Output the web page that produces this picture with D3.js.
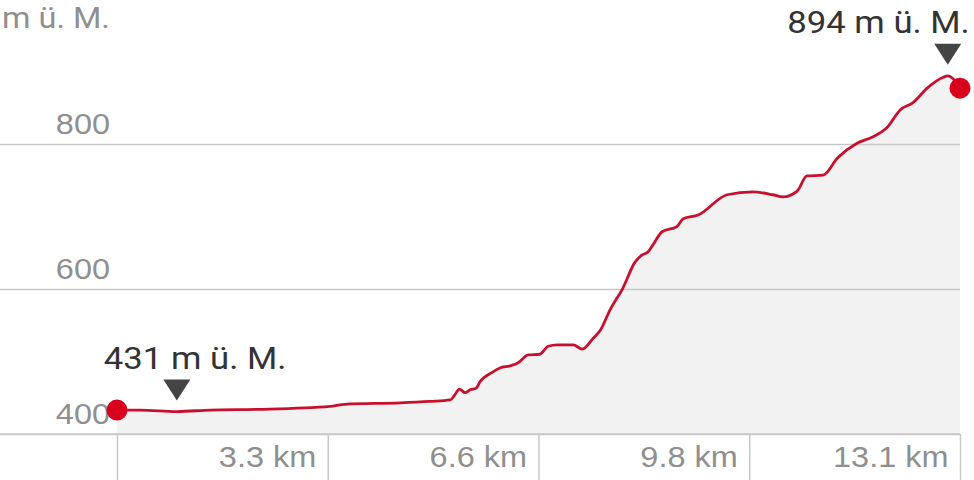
<!DOCTYPE html>
<html>
<head>
<meta charset="utf-8">
<script src="https://cdn.jsdelivr.net/npm/d3@7"></script>
<style>
  body { margin: 0; background: #fff; }
  svg { display: block; font-family: Roboto, sans-serif; }
</style>
</head>
<body>
<div class="chart"></div>
<script>
// elevation profile: distance (km) and height (m ü. M.)
var distKm = [0, 0.36, 0.93, 1.45, 2.22, 3.31, 3.54, 4.40, 4.86, 5.18, 5.25, 5.32, 5.41, 5.49,
  5.58, 5.64, 5.83, 5.95, 6.11, 6.23, 6.39, 6.57, 6.70, 6.84, 7.09, 7.23, 7.40, 7.51, 7.66,
  7.86, 8.05, 8.16, 8.25, 8.33, 8.47, 8.70, 8.80, 9.03, 9.48, 9.88, 10.19, 10.35, 10.57,
  10.72, 10.97, 11.20, 11.50, 11.75, 11.97, 12.17, 12.37, 12.59, 12.84, 12.91, 12.98, 13.10];
var elevM = [433, 433, 431, 433, 434, 438, 441, 443, 445, 447, 454, 462, 457, 461,
  463, 472, 485, 491, 494, 498, 509, 510, 521, 523, 523, 517, 532, 543, 571,
  601, 637, 647, 651, 661, 679, 686, 697, 702, 730, 734, 730, 727, 735,
  756, 757, 781, 801, 810, 823, 847, 857, 877, 892, 894, 891, 877];

var yTickValues = [400, 600, 800];
var xTickLabels = ["3.3 km", "6.6 km", "9.8 km", "13.1 km"];
var unitLabel = "m ü. M.";

var svgWidth = 974;
var svgHeight = 480;
var stretch = 1.12;

var svg = d3.select(".chart").append("svg")
  .attr("width", svgWidth)
  .attr("height", svgHeight);

var totalKm = distKm[distKm.length - 1];
var xScale = d3.scaleLinear().domain([0, totalKm]).range([117, 960]);
var yScale = d3.scaleLinear().domain([400, 800]).range([434, 144]);

var pts = distKm.map((d, i) => ({ km: d, m: elevM[i] }));

// area under profile
var area = d3.area()
  .x(d => xScale(d.km))
  .y0(yScale(400))
  .y1(d => yScale(d.m))
  .curve(d3.curveMonotoneX);

svg.append("path")
  .datum(pts)
  .attr("d", area)
  .attr("fill", "#f2f2f2");

// horizontal grid (y axis)
var leftAxis = d3.axisRight(yScale)
  .tickValues(yTickValues)
  .tickSize(960)
  .tickFormat(d3.format("d"));

var yAxisG = svg.append("g").call(leftAxis);
yAxisG.select(".domain").remove();
yAxisG.selectAll(".tick line").attr("stroke", "#c8c8c8").attr("stroke-width", 1.5);
yAxisG.selectAll(".tick text")
  .attr("x", null).attr("dy", null)
  .attr("text-anchor", "end")
  .attr("transform", `translate(110,-11) scale(${stretch},1)`)
  .attr("fill", "#8f8f8f")
  .attr("font-size", 29);

// bottom axis: tick lines going down, labels to the left of each tick
var xTickKm = xTickLabels.map((d, i) => totalKm * (i + 1) / xTickLabels.length);
var bottomAxis = d3.axisBottom(xScale)
  .tickValues([0].concat(xTickKm))
  .tickSize(46)
  .tickFormat((d, i) => i === 0 ? "" : xTickLabels[i - 1]);

var xAxisG = svg.append("g")
  .attr("transform", `translate(0, ${yScale(400)})`)
  .call(bottomAxis);
xAxisG.select(".domain").remove();
xAxisG.selectAll(".tick line").attr("stroke", "#c8c8c8").attr("stroke-width", 1.5);
xAxisG.selectAll(".tick text")
  .attr("y", null).attr("dy", null)
  .attr("text-anchor", "end")
  .attr("transform", `translate(-12,33) scale(${stretch},1)`)
  .attr("fill", "#8f8f8f")
  .attr("font-size", 29);

// baseline across whole width
svg.append("line")
  .attr("x1", 0).attr("x2", xScale(totalKm))
  .attr("y1", yScale(400)).attr("y2", yScale(400))
  .attr("stroke", "#c8c8c8").attr("stroke-width", 1.5);

// profile line
var line = d3.line()
  .x(d => xScale(d.km))
  .y(d => yScale(d.m))
  .curve(d3.curveMonotoneX);

svg.append("path")
  .datum(pts)
  .attr("d", line)
  .attr("fill", "none")
  .attr("stroke", "#c8102e")
  .attr("stroke-width", 2.8)
  .attr("stroke-linejoin", "round");

// start / end dots
svg.selectAll(".endpoint")
  .data([pts[0], pts[pts.length - 1]])
  .enter()
  .append("circle")
  .attr("cx", d => xScale(d.km))
  .attr("cy", d => yScale(d.m))
  .attr("r", 10.5)
  .attr("fill", "#d9001b");

// unit label top left
svg.append("text")
  .attr("transform", `translate(2,28) scale(${stretch},1)`)
  .attr("fill", "#8f8f8f")
  .attr("font-size", 29)
  .text(unitLabel);

// min / max markers
var minPt = pts[d3.minIndex(pts, d => d.m)];
var maxPt = pts[d3.maxIndex(pts, d => d.m)];

var markers = [
  { p: minPt, tx: -73, anchor: "start" },
  { p: maxPt, tx: 22, anchor: "end" }
];

markers.forEach(mk => {
  var cx = xScale(mk.p.km);
  var cy = yScale(mk.p.m);
  var tip = cy - 11;
  svg.append("path")
    .attr("d", `M${cx - 13.5},${tip - 21}L${cx + 13.5},${tip - 21}L${cx},${tip}Z`)
    .attr("fill", "#444");
  svg.append("text")
    .attr("transform", `translate(${cx + mk.tx},${tip - 32}) scale(${stretch},1)`)
    .attr("text-anchor", mk.anchor)
    .attr("fill", "#333")
    .attr("font-size", 31)
    .text(mk.p.m + " " + unitLabel);
});
</script>
</body>
</html>
